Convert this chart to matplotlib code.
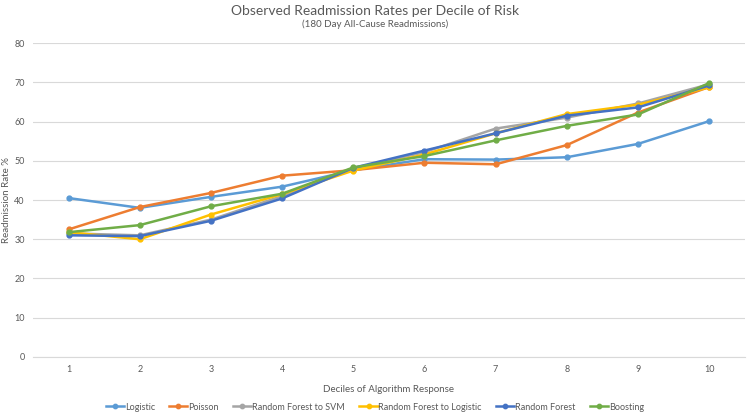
import matplotlib.pyplot as plt

deciles = [1, 2, 3, 4, 5, 6, 7, 8, 9, 10]
logistic = [40.5, 38.0, 40.8, 43.4, 47.6, 50.4, 50.3, 50.9, 54.3, 60.1]
poisson = [32.5, 38.2, 41.8, 46.2, 47.6, 49.5, 49.1, 54.0, 62.3, 68.8]
rf_svm = [31.5, 31.0, 35.0, 41.0, 48.0, 52.2, 58.2, 61.0, 64.6, 69.5]
rf_logistic = [31.8, 30.0, 36.3, 41.5, 47.5, 51.6, 57.0, 61.9, 64.3, 68.7]
random_forest = [31.0, 30.8, 34.7, 40.4, 48.2, 52.6, 57.0, 61.5, 63.6, 69.2]
boosting = [31.8, 33.6, 38.4, 41.6, 48.3, 51.2, 55.2, 58.9, 61.8, 69.8]

series = [
    ("Logistic", logistic, "#5B9BD5"),
    ("Poisson", poisson, "#ED7D31"),
    ("Random Forest to SVM", rf_svm, "#A5A5A5"),
    ("Random Forest to Logistic", rf_logistic, "#FFC000"),
    ("Random Forest", random_forest, "#4472C4"),
    ("Boosting", boosting, "#70AD47"),
]

plt.rcParams['font.family'] = ['Lato', 'DejaVu Sans']

fig = plt.figure(figsize=(7.5, 4.18), dpi=100)
ax = fig.add_axes([0.044, 0.146, 0.949, 0.751])

for name, vals, col in series:
    ax.plot(deciles, vals, color=col, lw=1.8, marker='o', ms=3.5, label=name)

ax.set_xlim(0.5, 10.5)
ax.set_ylim(0, 80)
ax.set_xticks(deciles)
ax.set_yticks(range(0, 81, 10))
ax.grid(axis='y', color='#D9D9D9', lw=0.8)
ax.set_axisbelow(True)
for s in ['top', 'right', 'left']:
    ax.spines[s].set_visible(False)
ax.spines['bottom'].set_color('#D9D9D9')
ax.tick_params(length=0, labelsize=6.5, colors='#595959', pad=6)

ax.set_xlabel("Deciles of Algorithm Response", fontsize=7, color='#595959', labelpad=8)
ax.set_ylabel("Readmission Rate %", fontsize=7, color='#595959', labelpad=2)

fig.text(0.5, 0.974, "Observed Readmission Rates per Decile of Risk", ha='center', va='center',
         fontsize=10, color='#595959')
fig.text(0.5, 0.942, "(180 Day All-Cause Readmissions)", ha='center', va='center',
         fontsize=7, color='#595959')

fig.legend(loc='center', bbox_to_anchor=(0.5, 0.026), ncol=6, frameon=False, fontsize=6.5,
           handlelength=2.0, columnspacing=1.6, labelcolor='#595959', handletextpad=0.1,
           markerscale=0.9)

fig.savefig("out.png", dpi=100)
